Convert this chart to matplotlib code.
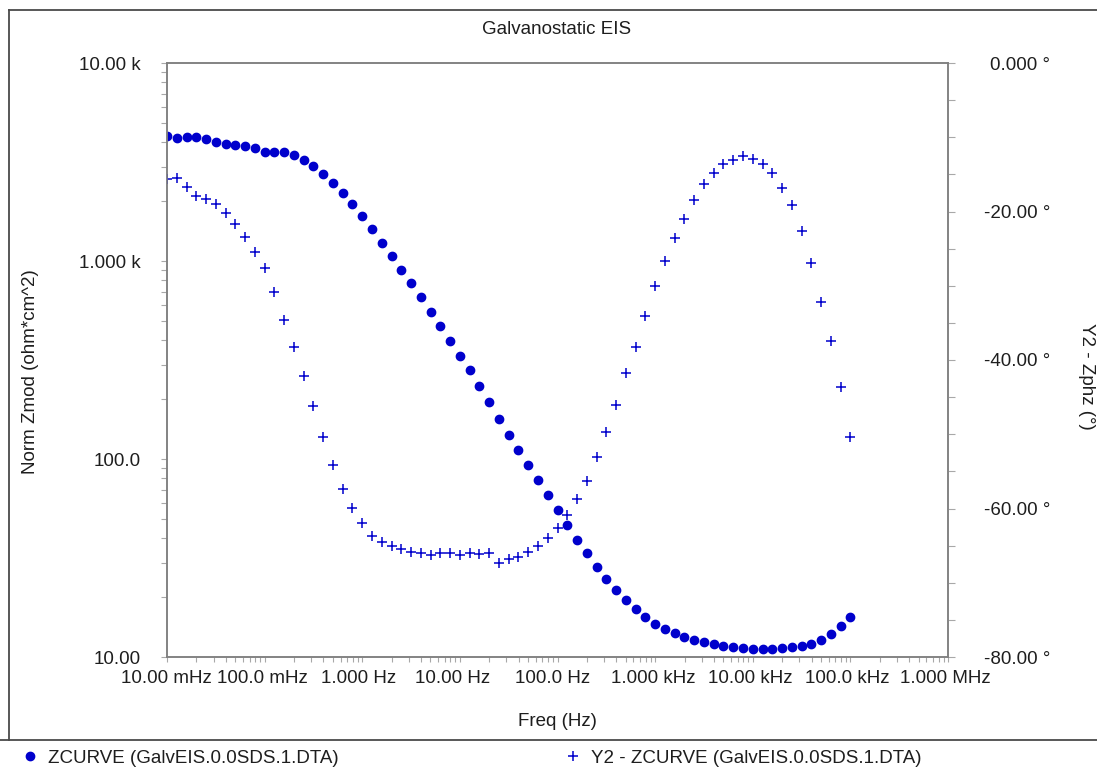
import matplotlib
matplotlib.use("Agg")
import matplotlib.pyplot as plt
from matplotlib.lines import Line2D
from matplotlib.ticker import FixedLocator, LogLocator, MultipleLocator, NullFormatter
from matplotlib.transforms import ScaledTranslation

plt.rcParams["font.family"] = ["Liberation Sans", "DejaVu Sans"]

# --- EIS data (Gamry GalvEIS run) -------------------------------------------
freq_hz = [
    0.01, 0.01259, 0.01585, 0.01995, 0.02512, 0.03162, 0.03981, 0.05012, 0.0631, 0.07943,
    0.1, 0.1259, 0.1585, 0.1995, 0.2512, 0.3162, 0.3981, 0.5012, 0.631, 0.7943,
    1.0, 1.259, 1.585, 1.995, 2.512, 3.162, 3.981, 5.012, 6.31, 7.943,
    10.0, 12.59, 15.85, 19.95, 25.12, 31.62, 39.81, 50.12, 63.1, 79.43,
    100.0, 125.9, 158.5, 199.5, 251.2, 316.2, 398.1, 501.2, 631.0, 794.3,
    1000.0, 1259.0, 1585.0, 1995.0, 2512.0, 3162.0, 3981.0, 5012.0, 6310.0, 7943.0,
    10000.0, 12589.0, 15849.0, 19953.0, 25119.0, 31623.0, 39811.0, 50119.0, 63096.0, 79433.0,
    100000.0,
]

zmod = [
    4277, 4179, 4247, 4229, 4118, 4004, 3912, 3854, 3822, 3734,
    3565, 3565, 3565, 3443, 3248, 3018, 2760, 2486, 2205, 1947,
    1694, 1446, 1237, 1060, 900.6, 771.5, 655.6, 552.6, 468.0, 394.5,
    331.3, 280.5, 232.9, 194.7, 159.2, 132.7, 111.4, 92.9, 78.1, 65.6,
    55.1, 46.5, 39.1, 33.4, 28.4, 24.8, 21.7, 19.3, 17.4, 15.9,
    14.7, 13.85, 13.27, 12.65, 12.22, 11.94, 11.61, 11.42, 11.21, 11.12,
    10.98, 10.98, 10.94, 11.06, 11.21, 11.34, 11.65, 12.17, 13.01, 14.29,
    15.96,
]

zphz = [
    -15.66, -15.53, -16.66, -17.87, -18.32, -19.03, -20.20, -21.72, -23.47, -25.45,
    -27.57, -30.80, -34.57, -38.29, -42.20, -46.20, -50.33, -54.14, -57.41, -59.97,
    -61.91, -63.66, -64.51, -65.01, -65.49, -65.82, -66.03, -66.26, -66.03, -66.03,
    -66.26, -66.03, -66.13, -66.03, -67.30, -66.84, -66.49, -65.90, -65.05, -64.01,
    -62.65, -60.93, -58.75, -56.28, -53.09, -49.72, -46.09, -41.80, -38.21, -34.02,
    -30.10, -26.69, -23.54, -21.05, -18.49, -16.31, -14.86, -13.67, -13.12, -12.53,
    -12.89, -13.62, -14.86, -16.81, -19.18, -22.68, -26.92, -32.15, -37.39, -43.68,
    -50.37,
]

x_ticks = [0.01, 0.1, 1, 10, 100, 1e3, 1e4, 1e5, 1e6]
x_tick_labels = ["10.00 mHz", "100.0 mHz", "1.000 Hz", "10.00 Hz", "100.0 Hz",
                 "1.000 kHz", "10.00 kHz", "100.0 kHz", "1.000 MHz"]
y_ticks = [10, 100, 1000, 10000]
y_tick_labels = ["10.00", "100.0", "1.000 k", "10.00 k"]
y2_ticks = [-80, -60, -40, -20, 0]
y2_tick_labels = ["-80.00 °", "-60.00 °", "-40.00 °", "-20.00 °", "0.000 °"]

legend_z = "ZCURVE (GalvEIS.0.0SDS.1.DTA)"
legend_ph = "Y2 - ZCURVE (GalvEIS.0.0SDS.1.DTA)"

# --- layout (pixel based, 100 dpi) -------------------------------------------
W, H = 1097, 769
BLUE = "#0000cc"
TXT = "#1e1e1e"
SPINE = "#808080"
TICK = "#a8a8a8"
FS = 13.5


def fx(px):
    return px / W


def fy(py):
    return 1 - py / H


fig = plt.figure(figsize=(W / 100, H / 100), dpi=100)
ax = fig.add_axes([fx(167), fy(657), fx(948) - fx(167), fy(63) - fy(657)])

z_line, = ax.plot(freq_hz, zmod, linestyle="none", marker="o", ms=6.0,
                  color=BLUE, mec=BLUE)
ax.set_xscale("log")
ax.set_yscale("log")
ax.set_xlim(0.01, 1e6)
ax.set_ylim(10, 1e4)

ax.xaxis.set_major_locator(FixedLocator(x_ticks))
ax.set_xticklabels(x_tick_labels)
ax.xaxis.set_minor_locator(LogLocator(base=10, subs=range(2, 10), numticks=20))
ax.xaxis.set_minor_formatter(NullFormatter())
ax.yaxis.set_major_locator(FixedLocator(y_ticks))
ax.set_yticklabels(y_tick_labels)
ax.yaxis.set_minor_locator(LogLocator(base=10, subs=range(2, 10), numticks=20))
ax.yaxis.set_minor_formatter(NullFormatter())

ax.tick_params(axis="x", which="both", direction="out", length=3.6, width=0.8,
               color=TICK, labelsize=FS, labelcolor=TXT, pad=5.5)
ax.tick_params(axis="y", which="both", direction="out", length=4.3, width=0.8,
               color=TICK, labelsize=FS, labelcolor=TXT, pad=14.4)

ax2 = ax.twinx()
ph_line, = ax2.plot(freq_hz, zphz, linestyle="none", marker="+", ms=7.0,
                    mew=1.1, color=BLUE)
ax2.set_ylim(-80, 0)
ax2.yaxis.set_major_locator(FixedLocator(y2_ticks))
ax2.set_yticklabels(y2_tick_labels)
ax2.yaxis.set_minor_locator(MultipleLocator(5))
ax2.tick_params(axis="y", which="both", direction="out", length=5.0, width=0.8,
                color=TICK, labelsize=FS, labelcolor=TXT, pad=68.4)
for lab in ax2.get_yticklabels():
    lab.set_horizontalalignment("right")

for a in (ax, ax2):
    for s in a.spines.values():
        s.set_color(SPINE)
        s.set_linewidth(1.1)

# small per-label nudges of the frequency labels (pixels)
x_label_shift = [-1, -2, -4, -7, -5, -2, -2, -3, -3]
for lab, dx in zip(ax.get_xticklabels(), x_label_shift):
    lab.set_transform(lab.get_transform() + ScaledTranslation(dx / 100, 0, fig.dpi_scale_trans))

# titles and axis names
fig.text(fx(557), fy(29), "Galvanostatic EIS", ha="center", va="center",
         fontsize=FS, color=TXT)
fig.text(fx(557), fy(722), "Freq (Hz)", ha="center", va="center",
         fontsize=FS, color=TXT)
fig.text(fx(31), fy(372), "Norm Zmod (ohm*cm^2)", ha="center", va="center",
         rotation=90, fontsize=FS, color=TXT)
fig.text(fx(1087), fy(376), "Y2 - Zphz (°)", ha="center", va="center",
         rotation=270, fontsize=FS, color=TXT)

# outer frame of the report page
frame_kw = dict(transform=fig.transFigure, color="#4a4a4a", linewidth=1.3)
fig.add_artist(Line2D([fx(9), fx(9)], [fy(10), fy(740)], **frame_kw))
fig.add_artist(Line2D([fx(9), 1], [fy(10), fy(10)], **frame_kw))
fig.add_artist(Line2D([0, 1], [fy(740), fy(740)], **frame_kw))

# legend entries below the frame
leg_kw = dict(loc="center left", frameon=False, fontsize=FS, handlelength=1.0,
              handletextpad=0.45, borderpad=0, borderaxespad=0, labelcolor=TXT)
fig.legend([z_line], [legend_z], bbox_to_anchor=(fx(21), fy(758)), **leg_kw)
fig.legend([ph_line], [legend_ph], bbox_to_anchor=(fx(564), fy(758)), **leg_kw)

fig.savefig("out.png", dpi=100)
